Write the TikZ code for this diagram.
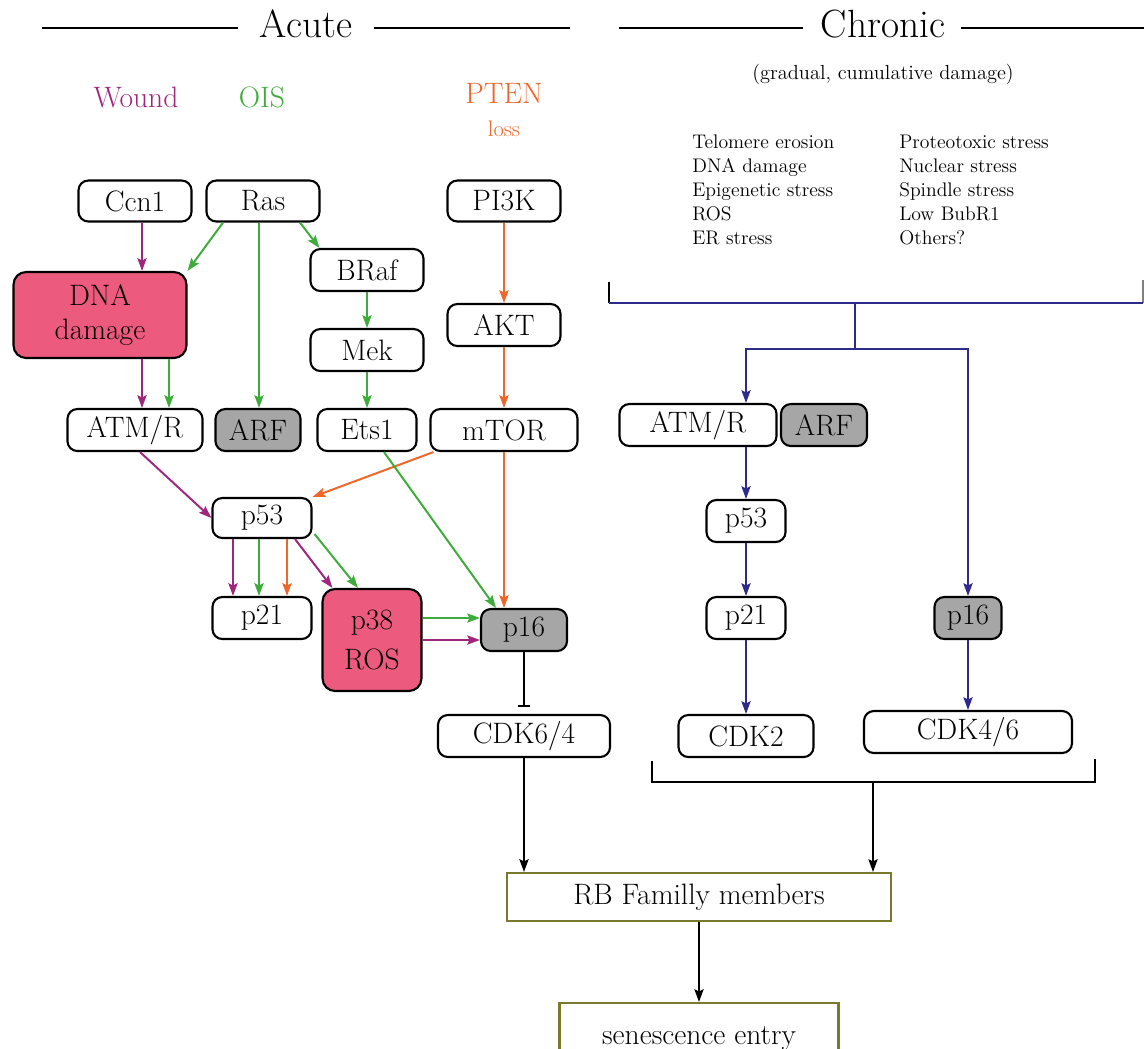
\documentclass[tikz,border=0pt]{standalone}
\usepackage{fontspec}
\usepackage{tikz}
\usetikzlibrary{arrows.meta, calc}
\tikzset{>={Stealth[length=9pt,width=6.5pt,inset=1.5pt]}}
\definecolor{wound}{RGB}{158,38,125}
\definecolor{ois}{RGB}{62,172,58}
\definecolor{pten}{RGB}{238,102,42}
\definecolor{chron}{RGB}{46,42,138}
\definecolor{damage}{RGB}{236,90,125}
\definecolor{inact}{RGB}{166,166,166}
\definecolor{rbline}{RGB}{122,122,44}
\tikzset{
  sz/.style 2 args={minimum width=#1*0.025cm, minimum height=#2*0.025cm},
  prot/.style={draw=black, line width=1.5pt, rounded corners=7pt, fill=white,
    inner sep=2pt, font=\fontsize{21}{24}\selectfont},
  dmg/.style={prot, fill=damage, rounded corners=9pt, align=center},
  off/.style={prot, fill=inact},
  rbbox/.style={draw=rbline, line width=1.5pt, fill=white, inner sep=2pt,
    font=\fontsize{21}{24}\selectfont},
  head/.style={font=\fontsize{28}{30}\selectfont, inner sep=0pt},
  src/.style={font=\fontsize{21}{24}\selectfont},
  stress/.style={font=\fontsize{14}{17}\selectfont, align=left, inner sep=0pt, anchor=north west},
  rule/.style={line width=2pt},
  link/.style={->, line width=1.4pt},
  inhib/.style={-{Bar[width=9pt]}, line width=1.4pt, shorten >=5pt},
}
\begin{document}
\begin{tikzpicture}[x=0.025cm, y=-0.025cm]
\useasboundingbox (0,0) rectangle (1144,1048);
\clip (0,0) rectangle (1144,1048);

% headings
\node[head, anchor=base] (acute) at (306,37) {Acute};
\draw[rule] (42,28) -- (238,28) (374,28) -- (570,28);
\node[head, anchor=base] (chronic) at (883,37) {Chronic};
\draw[rule] (619,28) -- (803,28) (961,28) -- (1144,28);

\node[src, text=wound] (wnd) at (136,97) {Wound};
\node[src, text=ois] (oisl) at (262,97) {OIS};
\node[src, text=pten] (ptenl) at (504,93) {PTEN};
\node[text=pten, font=\fontsize{16}{18}\selectfont] (loss) at (504,129) {loss};

\node[font=\fontsize{14.5}{17}\selectfont] (grad) at (883,74) {(gradual, cumulative damage)};
\node[stress] (lista) at (692,135) {Telomere erosion\\DNA damage\\Epigenetic stress\\ROS\\ER stress};
\node[stress] (listb) at (899,135) {Proteotoxic stress\\Nuclear stress\\Spindle stress\\Low BubR1\\Others?};

% acute pathways
\node[prot, sz={113}{41}] (ccn) at (135,201) {Ccn1};
\node[prot, sz={113}{41}] (ras) at (263,201) {Ras};
\node[prot, sz={113}{41}] (pik) at (504,201) {PI3K};
\node[prot, sz={113}{42}] (braf) at (367,270) {BRaf};
\node[dmg, sz={173}{86}] (dna) at (100,315) {DNA\\damage};
\node[prot, sz={113}{42}] (mek) at (367,350) {Mek};
\node[prot, sz={113}{42}] (akt) at (504,325) {AKT};
\node[prot, sz={135}{42}] (atm) at (135,430) {ATM/R};
\node[off, sz={85}{42}] (arf) at (258,430) {ARF};
\node[prot, sz={99}{42}] (ets) at (367,430) {Ets1};
\node[prot, sz={147}{42}] (mtor) at (504,430) {mTOR};
\node[prot, sz={99}{40}] (p53) at (262,518) {p53};
\node[prot, sz={99}{42}] (p21) at (262,618) {p21};
\node[dmg, sz={99}{102}] (p38) at (372,640) {p38\\[4pt]ROS};
\node[off, sz={86}{42}] (p16) at (524,630) {p16};
\node[prot, sz={172}{42}] (cdka) at (524,736) {CDK6/4};

\draw[link, wound] ($(ccn.south)+(7,0)$) -- ($(dna.north)+(42,0)$);
\draw[link, ois] ($(ras.south)+(-40,0)$) -- (dna.north east);
\draw[link, ois] ($(ras.south)+(-4,0)$) -- ($(arf.north)+(1,0)$);
\draw[link, ois] ($(ras.south)+(37,0)$) -- ($(braf.north west)+(10,0)$);
\draw[link, ois] (braf) -- (mek);
\draw[link, ois] (mek) -- (ets);
\draw[link, pten] (pik) -- (akt);
\draw[link, pten] (akt) -- (mtor);
\draw[link, wound] ($(dna.south)+(42,0)$) -- ($(atm.north)+(7,0)$);
\draw[link, ois] ($(dna.south)+(69,0)$) -- ($(atm.north)+(34,0)$);
\draw[link, wound] ($(atm.south)+(5,0)$) -- (p53.west);
\draw[link, pten] ($(mtor.south west)+(4,0)$) -- (p53.north east);
\draw[link, ois] ($(ets.south)+(17,0)$) -- ($(p16.north west)+(16,0)$);
\draw[link, pten] (mtor.south) -- ($(p16.north)+(-20,0)$);
\draw[link, wound] ($(p53.south)+(-29,0)$) -- ($(p21.north)+(-29,0)$);
\draw[link, ois] ($(p53.south)+(-3,0)$) -- ($(p21.north)+(-3,0)$);
\draw[link, pten] ($(p53.south)+(25,0)$) -- ($(p21.north)+(25,0)$);
\draw[link, wound] ($(p53.south)+(33,0)$) -- ($(p38.north west)+(11,0)$);
\draw[link, ois] ($(p53.south east)+(2,-5)$) -- ($(p38.north)+(-14,0)$);
\draw[link, ois] ($(p38.east)+(0,-22)$) -- ($(p16.west)+(0,-12)$);
\draw[link, wound] (p38.east) -- ($(p16.west)+(0,10)$);
\draw[inhib] (p16) -- (cdka);

% chronic pathway
\node[prot, sz={157}{42}] (atmc) at (698,425) {ATM/R};
\node[off, sz={86}{42}] (arfc) at (824,425) {ARF};
\node[prot, sz={79}{42}] (p53c) at (746,521) {p53};
\node[prot, sz={79}{42}] (p21c) at (746,618) {p21};
\node[off, sz={67}{42}] (p16c) at (968,618) {p16};
\node[prot, sz={135}{42}] (cdk2) at (746,736) {CDK2};
\node[prot, sz={208}{42}] (cdkb) at (968,732) {CDK4/6};

\coordinate (ctop) at (855,303);
\coordinate (csplit) at (855,349);
\draw[line width=1.5pt] (609,282) -- (609,303);
\draw[line width=1.5pt, gray] (1143,280) -- (1143,303);
\draw[line width=1.4pt, chron] (609,303) -- (1143,303);
\draw[line width=1.4pt, chron] (ctop) -- (csplit);
\draw[link, chron] (csplit) -| (atmc.north -| p53c.north);
\draw[link, chron] (csplit) -| (p16c.north);
\draw[link, chron] (atmc.south -| p53c.north) -- (p53c.north);
\draw[link, chron] (p53c) -- (p21c);
\draw[link, chron] (p21c) -- (cdk2);
\draw[link, chron] (p16c) -- (cdkb);

% RB and exit
\node[rbbox, sz={384}{48}] (rb) at (699,897) {RB Familly members};
\node[rbbox, sz={279}{70}] (sen) at (699,1038) {senescence entry};

\draw[line width=1.5pt] (652,761) -- (652,782) -- (1095,782) -- (1095,759);
\coordinate (bstem) at (873,782);
\draw[link] (bstem) -- (bstem |- rb.north);
\draw[link] (cdka) -- (cdka |- rb.north);
\draw[link] (rb) -- (sen);
\end{tikzpicture}
\end{document}
